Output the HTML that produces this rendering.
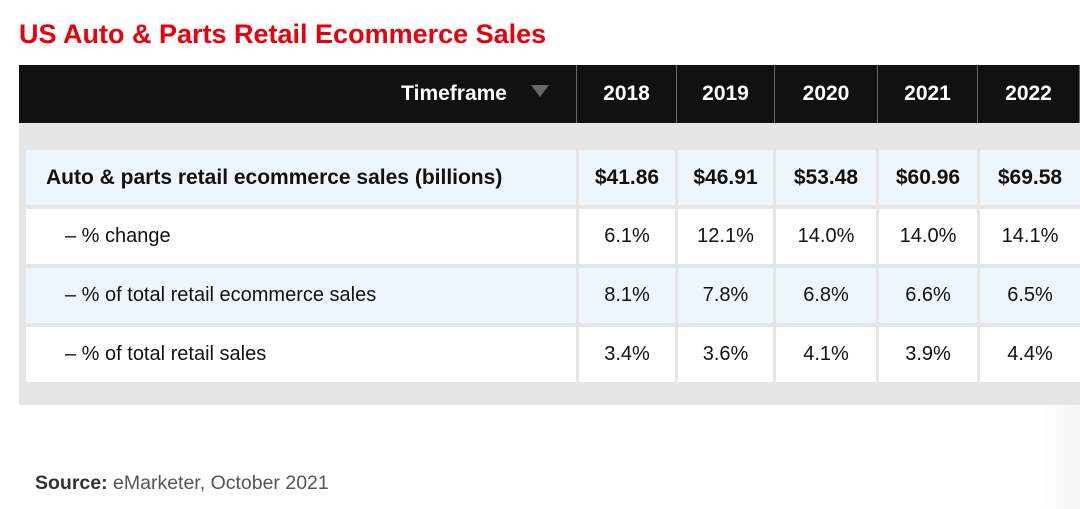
<!DOCTYPE html>
<html>
<head>
<meta charset="utf-8">
<style>
  html, body { margin:0; padding:0; }
  body { width:1080px; height:509px; position:relative; overflow:hidden; background:#fff; font-family:"Liberation Sans", Arial, sans-serif; }
  .abs { position:absolute; }
  .title { left:19px; top:21px; font-size:27px; line-height:27px; font-weight:bold; color:#e8000d; white-space:nowrap; }
  .hdr { left:19px; top:65px; width:1061px; height:58px; background:#111; }
  .hcell { position:absolute; top:0; height:58px; line-height:58px; color:#fff; font-weight:bold; font-size:21px; text-align:center; }
  .vdiv { position:absolute; top:0; width:1px; height:58px; background:#6a6a6a; }
  .gray { left:19px; top:123px; width:1061px; height:282px; background:#e6e6e6; }
  .cell { position:absolute; height:55px; line-height:55px; font-size:20px; color:#111; text-align:center; white-space:nowrap; }
  .blue { background:#eef6fd; }
  .white { background:#fff; }
  .lbl { text-align:left; }
  .b { font-weight:bold; font-size:21px; }
  .src { left:35px; top:473px; font-size:19.5px; line-height:20px; color:#555; white-space:nowrap; }
  .src b { color:#333; }
  .fade { left:1040px; top:405px; width:40px; height:104px; background:linear-gradient(to right, rgba(235,235,235,0), rgba(235,235,235,0.5)); }
</style>
</head>
<body>
  <div class="abs title">US Auto &amp; Parts Retail Ecommerce Sales</div>

  <div class="abs hdr">
    <div class="hcell" style="left:0;width:488px;text-align:right;">Timeframe</div>
    <svg style="position:absolute;left:512px;top:20px;" width="18" height="13" viewBox="0 0 18 13"><polygon points="0,0 18,0 9,12" fill="#666"/></svg>
    <div class="vdiv" style="left:557px;"></div>
    <div class="hcell" style="left:558px;width:99px;">2018</div>
    <div class="vdiv" style="left:657px;"></div>
    <div class="hcell" style="left:658px;width:97px;">2019</div>
    <div class="vdiv" style="left:755px;"></div>
    <div class="hcell" style="left:756px;width:102px;">2020</div>
    <div class="vdiv" style="left:858px;"></div>
    <div class="hcell" style="left:859px;width:99px;">2021</div>
    <div class="vdiv" style="left:958px;"></div>
    <div class="hcell" style="left:959px;width:101px;">2022</div>
    <div class="vdiv" style="left:1060px;"></div>
  </div>

  <div class="abs gray"></div>

  <!-- Row 1 -->
  <div class="cell blue lbl b" style="left:26px;top:150px;width:530px;padding-left:20px;">Auto &amp; parts retail ecommerce sales (billions)</div>
  <div class="cell blue b" style="left:579px;top:150px;width:96px;">$41.86</div>
  <div class="cell blue b" style="left:678px;top:150px;width:95px;">$46.91</div>
  <div class="cell blue b" style="left:776px;top:150px;width:100px;">$53.48</div>
  <div class="cell blue b" style="left:879px;top:150px;width:98px;">$60.96</div>
  <div class="cell blue b" style="left:980px;top:150px;width:100px;">$69.58</div>

  <!-- Row 2 -->
  <div class="cell white lbl" style="left:26px;top:209px;width:511px;padding-left:39px;">– % change</div>
  <div class="cell white" style="left:579px;top:209px;width:96px;">6.1%</div>
  <div class="cell white" style="left:678px;top:209px;width:95px;">12.1%</div>
  <div class="cell white" style="left:776px;top:209px;width:100px;">14.0%</div>
  <div class="cell white" style="left:879px;top:209px;width:98px;">14.0%</div>
  <div class="cell white" style="left:980px;top:209px;width:100px;">14.1%</div>

  <!-- Row 3 -->
  <div class="cell blue lbl" style="left:26px;top:268px;width:511px;padding-left:39px;">– % of total retail ecommerce sales</div>
  <div class="cell blue" style="left:579px;top:268px;width:96px;">8.1%</div>
  <div class="cell blue" style="left:678px;top:268px;width:95px;">7.8%</div>
  <div class="cell blue" style="left:776px;top:268px;width:100px;">6.8%</div>
  <div class="cell blue" style="left:879px;top:268px;width:98px;">6.6%</div>
  <div class="cell blue" style="left:980px;top:268px;width:100px;">6.5%</div>

  <!-- Row 4 -->
  <div class="cell white lbl" style="left:26px;top:327px;width:511px;padding-left:39px;">– % of total retail sales</div>
  <div class="cell white" style="left:579px;top:327px;width:96px;">3.4%</div>
  <div class="cell white" style="left:678px;top:327px;width:95px;">3.6%</div>
  <div class="cell white" style="left:776px;top:327px;width:100px;">4.1%</div>
  <div class="cell white" style="left:879px;top:327px;width:98px;">3.9%</div>
  <div class="cell white" style="left:980px;top:327px;width:100px;">4.4%</div>

  <div class="abs fade"></div>

  <div class="abs src"><b>Source:</b> eMarketer, October 2021</div>
</body>
</html>
